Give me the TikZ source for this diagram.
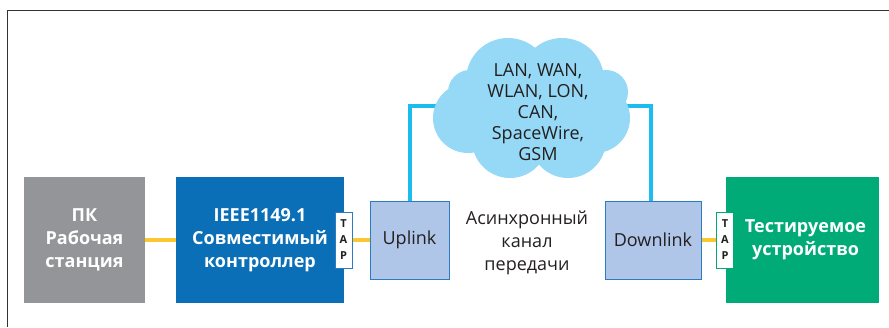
\documentclass[tikz,border=0pt]{standalone}
\usepackage{fontspec}
\setmainfont{Open Sans}
\definecolor{pcgray}{HTML}{939598}
\definecolor{ctrlblue}{HTML}{0A6FB7}
\definecolor{dutgreen}{HTML}{00AB78}
\definecolor{linkfill}{HTML}{AFC6E9}
\definecolor{linkedge}{HTML}{2D7BC1}
\definecolor{netcyan}{HTML}{1CBCEF}
\definecolor{cloudfill}{HTML}{95D9F6}
\definecolor{jtagyellow}{HTML}{FAC82E}
\definecolor{ink}{HTML}{231F20}
\definecolor{framegray}{HTML}{333333}
\begin{document}
\begin{tikzpicture}[x=1pt,y=-1pt,
  bigbox/.style={inner sep=0pt, text=white, align=center,
    font=\bfseries\fontsize{18}{23}\selectfont, minimum height=126pt},
  linkbox/.style={fill=linkfill, draw=linkedge, line width=1pt, inner sep=0pt,
    minimum height=78pt, text=ink, font=\fontsize{18}{23}\selectfont},
  tapbox/.style={fill=white, draw=#1, line width=1pt, inner sep=0pt,
    minimum width=17pt, minimum height=56pt, align=center, text=ink,
    font=\bfseries\fontsize{11}{16}\selectfont},
  jtagline/.style={draw=jtagyellow, line width=4pt},
  netline/.style={draw=netcyan, line width=4pt},
  plaintext/.style={inner sep=0pt, align=center, text=ink,
    font=\fontsize{18}{23}\selectfont}]
\useasboundingbox (0,0) rectangle (889,327);

% partial frame: top and left edges
\draw[framegray, line width=1.8pt] (889,10.5) -- (7.5,10.5) -- (7.5,327);

% main blocks
\node[bigbox, fill=pcgray, minimum width=121pt] (pc) at (84.5,240)
  {ПК\\Рабочая\\станция};
\node[bigbox, fill=ctrlblue, minimum width=168pt] (ctrl) at (260,240)
  {IEEE1149.1\\Совместимый\\контроллер};
\node[bigbox, fill=dutgreen, minimum width=153pt] (dut) at (802.5,240)
  {\hspace*{6pt}Тестируемое\\\hspace*{6pt}устройство};

% TAP ports
\node[tapbox=linkedge] (tapL) at (343.5,240) {T\\A\\P};
\node[tapbox=dutgreen] (tapR) at (725,240) {T\\A\\P};

% link endpoints
\node[linkbox, minimum width=79pt] (up) at (409.5,240) {Uplink};
\node[linkbox, minimum width=96pt] (down) at (653,240) {Downlink};

% middle label
\node[plaintext] (async) at (527,243) {Асинхронный\\канал\\передачи};

% JTAG connections
\draw[jtagline] (pc.east) -- (ctrl.west);
\draw[jtagline] (tapL.east) -- (up.west);
\draw[jtagline] (down.east) -- (tapR.west);

% network connections to the cloud
\coordinate (cloudL) at (445,106);
\coordinate (cloudR) at (620,106);
\draw[netline] (up.north) |- (cloudL);
\draw[netline] ([xshift=-2pt]down.north) |- (cloudR);

% cloud built from overlapping lobes
\fill[cloudfill]
  (508,80) circle (42)
  (562,80) circle (42)
  (470,92) circle (22)
  (606,92) circle (22)
  (468,118) circle (35)
  (595,118) circle (35)
  (510,140) circle (38)
  (568,140) circle (38)
  (537,110) ellipse (70 and 50);
\node[plaintext, font=\fontsize{18}{21}\selectfont] (net) at (538,112)
  {LAN, WAN,\\WLAN, LON,\\CAN,\\SpaceWire,\\GSM};
\end{tikzpicture}
\end{document}
